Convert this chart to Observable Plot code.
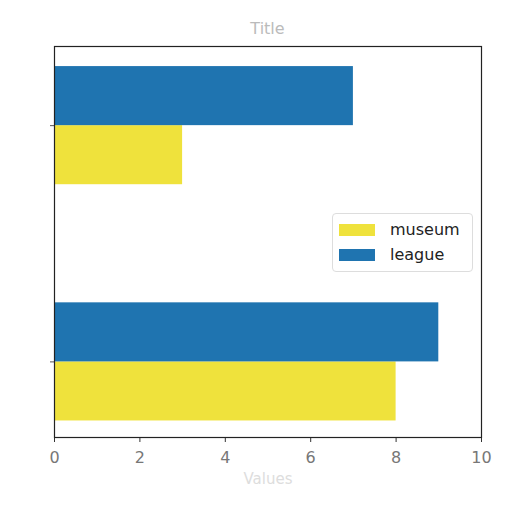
<!DOCTYPE html>
<html><head><meta charset="utf-8">
<script src="https://cdn.jsdelivr.net/npm/d3@7"></script>
<script src="https://cdn.jsdelivr.net/npm/@observablehq/plot@0.6"></script>
<style>
body{margin:0;background:#fff;font-family:"DejaVu Sans",sans-serif;}
#wrap{position:relative;width:512px;height:512px;}
#title{position:absolute;left:54px;width:427px;top:19px;text-align:center;font-size:16px;color:#bbb;}
#legend{position:absolute;left:332px;top:213px;width:139px;height:57px;border:1px solid #ddd;border-radius:4px;background:rgba(255,255,255,0.85);font-size:16px;color:#222;}
.item{position:absolute;left:6px;display:flex;align-items:center;}
.sw{width:36px;height:12px;margin-right:15px;}
</style></head>
<body><div id="wrap"><div id="title"></div><div id="chart"></div><div id="legend"></div></div>
<script>
const titleText = "Title";
const xLabel = "Values";
const categories = ["", ""];
const seriesNames = ["museum", "league"];
const museum = [8, 3];
const league = [9, 7];
const colors = ["#efe23c", "#1f74b0"];
const xTicks = [0, 2, 4, 6, 8, 10];

const barH = 0.25;
const rows = [];
categories.forEach((c, i) => {
  rows.push({cat: i, series: seriesNames[0], value: museum[i], y1: i - barH, y2: i});
  rows.push({cat: i, series: seriesNames[1], value: league[i], y1: i, y2: i + barH});
});

const plot = Plot.plot({
  width: 512, height: 512,
  marginLeft: 54, marginRight: 31, marginTop: 46, marginBottom: 75,
  style: {fontFamily: "DejaVu Sans, sans-serif", fontSize: "16px", background: "transparent"},
  x: {domain: [0, 10], ticks: xTicks, tickSize: 5, label: null},
  y: {domain: [-0.32, 1.335], ticks: categories.map((c, i) => i), tickFormat: i => categories[i], tickSize: 4, label: null},
  color: {domain: seriesNames, range: colors},
  marks: [
    Plot.rectX(rows, {x1: 0, x2: "value", y1: "y1", y2: "y2", fill: "series"}),
    Plot.axisX({ticks: xTicks, tickSize: 5, tickPadding: 9, fontSize: 16, color: "#777", stroke: "#333", label: null}),
    Plot.axisY({ticks: [0, 1], tickSize: 4, tickFormat: i => categories[i], stroke: "#555", label: null}),
    Plot.text([xLabel], {frameAnchor: "bottom", dy: 46, fill: "#ddd", fontSize: 15}),
    Plot.frame({stroke: "#222", strokeWidth: 1.2})
  ]
});
document.getElementById("chart").appendChild(plot);
document.getElementById("title").textContent = titleText;

const leg = document.getElementById("legend");
seriesNames.forEach((s, i) => {
  const d = document.createElement("div");
  d.className = "item";
  d.style.top = (6 + i * 25) + "px";
  d.innerHTML = `<span class="sw" style="background:${colors[i]}"></span><span>${s}</span>`;
  leg.appendChild(d);
});
</script></body></html>
